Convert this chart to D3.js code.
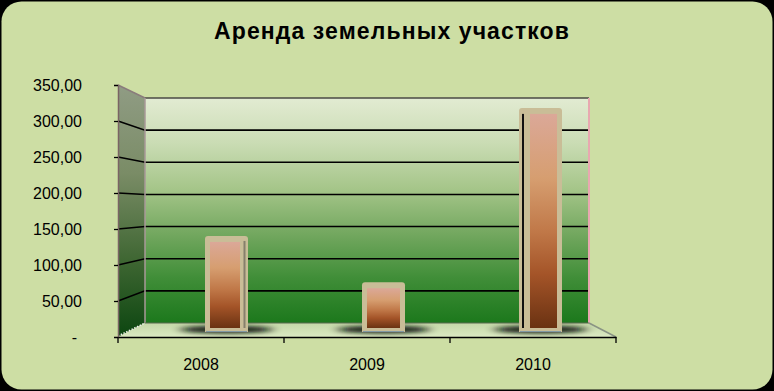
<!DOCTYPE html>
<html><head><meta charset="utf-8">
<script src="https://cdn.jsdelivr.net/npm/d3@7"></script>
<style>html,body{margin:0;padding:0;background:#000}svg{display:block}</style>
</head><body>
<svg id="chart" width="774" height="391"></svg>
<script>
const title = "Аренда земельных участков";
const categories = ["2008", "2009", "2010"];
const values = [135, 70, 315];
const yTicks = [0, 50, 100, 150, 200, 250, 300, 350];

const W = 774, H = 391;
const svg = d3.select("#chart");
const defs = svg.append("defs");

// geometry of the pseudo-3D box
const frontL = 118, frontR = 616, frontB = 337, frontT = 85;
const backL = 145, backR = 589, backB = 323, backT = 98;

const yFront = d3.scaleLinear().domain([0, 350]).range([frontB, frontT]);
const yBack = d3.scaleLinear().domain([0, 350]).range([backB, backT]);
const yBar = d3.scaleLinear().domain([0, 350]).range([332, 83]);
const xFront = d3.scaleBand().domain(categories).range([frontL, frontR]);
const xBar = d3.scaleBand().domain(categories).range([148, 619]);

const loc = d3.formatLocale({decimal: ",", thousands: " ", grouping: [3], currency: ["", ""]});
const fmt = loc.format(",.2f");

// gradients
function vGrad(id, stops, y1, y2) {
  const g = defs.append("linearGradient").attr("id", id)
    .attr("gradientUnits", "userSpaceOnUse").attr("x1", 0).attr("x2", 0).attr("y1", y1).attr("y2", y2);
  stops.forEach(s => g.append("stop").attr("offset", s[0]).attr("stop-color", s[1]));
}
vGrad("backG", [[0, "#e2ebd2"], [0.2, "#cadcb4"], [0.4, "#a6c68a"], [0.6, "#74a860"], [0.8, "#408e38"], [1, "#1c781c"]], backT, backB);
vGrad("leftG", [[0, "#909c84"], [0.35, "#7a8c66"], [0.7, "#3e6632"], [1, "#0c4610"]], frontT, frontB);
vGrad("floorG", [[0, "#c4d8a8"], [1, "#dbe9c2"]], backB, frontB);
vGrad("barG", [[0, "#dba898"], [0.3, "#d69e70"], [0.55, "#c07848"], [0.75, "#a45428"], [1, "#6a3212"]], 0, 1);
defs.select("#barG").attr("gradientUnits", "objectBoundingBox");

const blur = defs.append("filter").attr("id", "blur").attr("x", "-50%").attr("y", "-200%").attr("width", "200%").attr("height", "500%");
blur.append("feGaussianBlur").attr("stdDeviation", "6 2.2");

defs.append("clipPath").attr("id", "floorClip").append("polygon")
  .attr("points", `${frontL},${frontB} ${backL},${backB} ${backR},${backB} ${frontR},${frontB}`);

// background
svg.append("rect").attr("width", W).attr("height", H).attr("fill", "#000");
svg.append("rect").attr("x", 1.5).attr("y", 1.5).attr("width", W - 3).attr("height", H - 3)
  .attr("rx", 20).attr("fill", "#cddea4");

// title
svg.append("text").attr("x", 392).attr("y", 39).attr("text-anchor", "middle")
  .attr("font-family", "Liberation Sans, Arial, sans-serif").attr("font-weight", "bold")
  .attr("font-size", 23).attr("letter-spacing", 1.1).attr("fill", "#000").text(title);

// back wall
svg.append("rect").attr("x", backL).attr("y", backT).attr("width", backR - backL).attr("height", backB - backT)
  .attr("fill", "url(#backG)");
// left wall
svg.append("polygon")
  .attr("points", `${frontL},${frontT} ${backL},${backT} ${backL},${backB} ${frontL},${frontB}`)
  .attr("fill", "url(#leftG)");
// floor
svg.append("polygon")
  .attr("points", `${frontL},${frontB} ${backL},${backB} ${backR},${backB} ${frontR},${frontB}`)
  .attr("fill", "url(#floorG)");

// grid lines
const grid = svg.append("g");
yTicks.filter(v => v > 0 && v < 350).forEach(v => {
  grid.append("polyline")
    .attr("points", `${frontL},${yFront(v)} ${backL},${yBack(v)} ${backR},${yBack(v)}`)
    .attr("fill", "none").attr("stroke", "#000").attr("stroke-width", 1.6);
});
// wall edges
grid.append("line").attr("x1", backL).attr("x2", backR).attr("y1", backT).attr("y2", backT)
  .attr("stroke", "#4a4a44").attr("stroke-width", 1.5);
grid.append("line").attr("x1", frontL).attr("x2", backL).attr("y1", frontT).attr("y2", backT)
  .attr("stroke", "#8a7c7c").attr("stroke-width", 1.5);
grid.append("line").attr("x1", backR).attr("x2", backR).attr("y1", backT).attr("y2", backB)
  .attr("stroke", "#e8a8b0").attr("stroke-width", 2);
grid.append("line").attr("x1", backL).attr("x2", backL).attr("y1", backT).attr("y2", backB)
  .attr("stroke", "#a89898").attr("stroke-width", 1.5);
grid.append("line").attr("x1", backL).attr("x2", backR).attr("y1", backB).attr("y2", backB)
  .attr("stroke", "#5a6a50").attr("stroke-width", 1.2);
grid.append("line").attr("x1", frontL).attr("x2", backL).attr("y1", frontB - 1).attr("y2", backB)
  .attr("stroke", "#eeeeee").attr("stroke-width", 1.5).attr("stroke-dasharray", "1.5 1.5");
grid.append("line").attr("x1", backR).attr("x2", frontR).attr("y1", backB).attr("y2", frontB)
  .attr("stroke", "#8a9484").attr("stroke-width", 1.5);

// shadows
const shadows = svg.append("g").attr("clip-path", "url(#floorClip)");
shadows.selectAll("ellipse").data(categories).join("ellipse")
  .attr("cx", d => xBar(d) + xBar.bandwidth() / 2)
  .attr("cy", 329.5).attr("rx", 46).attr("ry", 3.8)
  .attr("fill", "#08140a").attr("opacity", 0.95).attr("filter", "url(#blur)");

// bars
const barW = 43;
const mid = (frontL + frontR) / 2 + 17;
const bars = svg.append("g");
categories.forEach((c, i) => {
  const cx = xBar(c) + xBar.bandwidth() / 2;
  const x0 = cx - barW / 2, x1 = cx + barW / 2;
  const yt = yBar(values[i]), yb = yBar(0);
  const off = cx - mid;
  const g = bars.append("g");
  const r = 3;
  g.append("path")
    .attr("d", `M${x0},${yb} L${x0},${yt + r} Q${x0},${yt} ${x0 + r},${yt} L${x1 - r},${yt} Q${x1},${yt} ${x1},${yt + r} L${x1},${yb} Z`)
    .attr("fill", "#c9bd97");
  let inL = 5, inR = 5;
  if (off < -50) {
    inR = 8;
    g.append("rect").attr("x", x1 - 4.5).attr("y", yt + 5).attr("width", 2).attr("height", yb - yt - 9)
      .attr("fill", "#86806c");
  } else if (off > 50) {
    inL = 11;
    g.append("rect").attr("x", x0 + 3).attr("y", yt + 6).attr("width", 2).attr("height", yb - yt - 10)
      .attr("fill", "#111");
  }
  g.append("rect").attr("x", x0 + inL).attr("y", yt + 6)
    .attr("width", (x1 - inR) - (x0 + inL)).attr("height", yb - yt - 10)
    .attr("fill", "url(#barG)");
  g.append("line").attr("x1", x0 + 1).attr("x2", x1 - 1).attr("y1", yb - 0.5).attr("y2", yb - 0.5)
    .attr("stroke", "#8098a4").attr("stroke-width", 1);
});

// y axis
const yAxis = svg.append("g").attr("transform", `translate(${frontL},0)`)
  .call(d3.axisLeft(yFront).tickValues(yTicks).tickSize(4).tickPadding(32)
    .tickFormat(v => v === 0 ? "-" : fmt(v)));
yAxis.select(".domain").attr("stroke", "#7a6464").attr("stroke-width", 1.5);
yAxis.selectAll(".tick line").attr("stroke", "#000").attr("stroke-width", 1.3);
yAxis.selectAll(".tick text").attr("font-family", "Liberation Sans, Arial, sans-serif")
  .attr("font-size", 16).attr("fill", "#000");
yAxis.selectAll(".tick").filter(v => v === 0).select("text").attr("dx", -5);

// x axis (front edge of floor)
const xAxis = svg.append("g").attr("transform", `translate(0,${frontB})`)
  .call(d3.axisBottom(xFront).tickSize(0).tickPadding(22));
xAxis.select(".domain").attr("stroke", "#000").attr("stroke-width", 1.5);
xAxis.selectAll(".tick text").attr("font-family", "Liberation Sans, Arial, sans-serif")
  .attr("font-size", 16).attr("fill", "#000");
const bounds = categories.map(c => xFront(c)).concat([frontR]);
xAxis.selectAll(".bound").data(bounds).join("line").attr("class", "bound")
  .attr("x1", d => d).attr("x2", d => d).attr("y1", 0).attr("y2", 6)
  .attr("stroke", "#000").attr("stroke-width", 1.3);
</script>
</body></html>
